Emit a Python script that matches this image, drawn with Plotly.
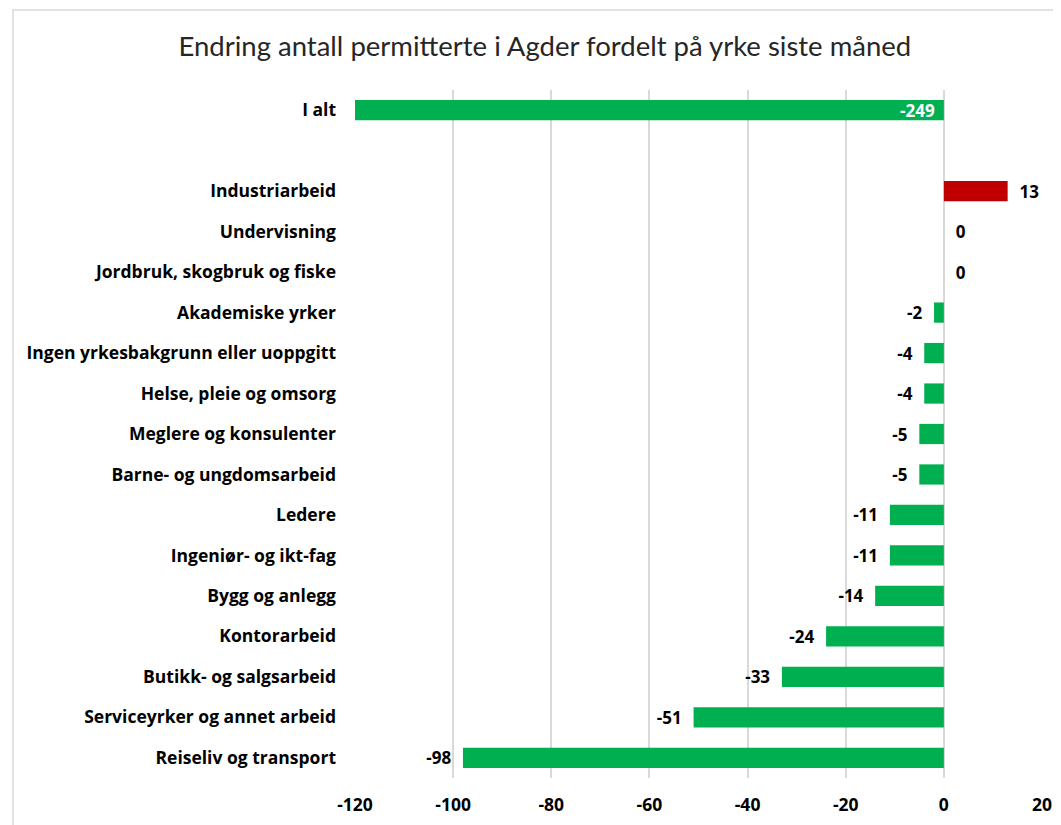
import plotly.graph_objects as go

categories = ["I alt", " ", "Industriarbeid", "Undervisning", "Jordbruk, skogbruk og fiske",
              "Akademiske yrker", "Ingen yrkesbakgrunn eller uoppgitt", "Helse, pleie og omsorg",
              "Meglere og konsulenter", "Barne- og ungdomsarbeid", "Ledere", "Ingeniør- og ikt-fag",
              "Bygg og anlegg", "Kontorarbeid", "Butikk- og salgsarbeid",
              "Serviceyrker og annet arbeid", "Reiseliv og transport"]
values = [-249, None, 13, 0, 0, -2, -4, -4, -5, -5, -11, -11, -14, -24, -33, -51, -98]
x_ticks = [-120, -100, -80, -60, -40, -20, 0, 20]

GREEN = "#00B050"
RED = "#C00000"
LBL = "'Open Sans', Lato, sans-serif"
TFONT = "Lato, 'Open Sans', sans-serif"

main_cats = categories[1:]
main_vals = values[1:]
colors = [RED if (v is not None and v > 0) else GREEN for v in main_vals]


def pad(v):
    if v is None:
        return ""
    return "  " + str(v) if v >= 0 else str(v) + "  "


texts = [pad(v) for v in main_vals]

fig = go.Figure()
fig.add_trace(go.Bar(
    y=main_cats, x=main_vals, orientation="h",
    marker=dict(color=colors, line=dict(width=0)),
    width=0.5,
    text=texts, textposition="outside", constraintext="none",
    textfont=dict(family=LBL, size=17, color="#000000", weight="bold"),
    cliponaxis=False,
    hoverinfo="skip",
))
fig.add_trace(go.Bar(
    y=categories[:1], x=values[:1], orientation="h",
    marker=dict(color=GREEN, line=dict(width=0)),
    width=0.5,
    hoverinfo="skip",
))

fig.add_annotation(x=0, y=categories[0], xref="x", yref="y", text=str(values[0]),
                   showarrow=False, xanchor="right", xshift=-7,
                   font=dict(family=LBL, size=17, color="#FFFFFF", weight="bold"))

fig.update_layout(
    width=1061, height=825,
    margin=dict(l=347, r=27, t=82, b=55),
    paper_bgcolor="white", plot_bgcolor="white",
    showlegend=False, barmode="overlay",
    title=dict(text="Endring antall permitterte i Agder fordelt på yrke siste måned",
               x=0.506, xanchor="center", y=0.954, yanchor="middle",
               font=dict(family=TFONT, size=27.5, color="#262626")),
    xaxis=dict(range=[-120, 20], tickvals=x_ticks, ticktext=[str(t) for t in x_ticks],
               showgrid=True, gridcolor="#D9D9D9",
               gridwidth=1.5, zeroline=True, zerolinecolor="#D9D9D9", zerolinewidth=1.5,
               showline=False, ticks="", ticklabelstandoff=14,
               tickfont=dict(family=LBL, size=17.5, color="#000000", weight="bold")),
    yaxis=dict(categoryorder="array", categoryarray=categories, autorange="reversed",
               range=[16.5, -0.5], showgrid=False, zeroline=False, showline=False, ticks="",
               ticklabelstandoff=18,
               tickfont=dict(family=LBL, size=17.5, color="#000000", weight="bold")),
    shapes=[dict(type="rect", xref="paper", yref="paper",
                 x0=(5 - 347) / 687, x1=(1070 - 347) / 687,
                 y0=(770 - 840) / 688, y1=(770 - 2) / 688,
                 line=dict(color="#D9D9D9", width=1.5), fillcolor="rgba(0,0,0,0)", layer="below")],
)

fig.write_html("out.html")
